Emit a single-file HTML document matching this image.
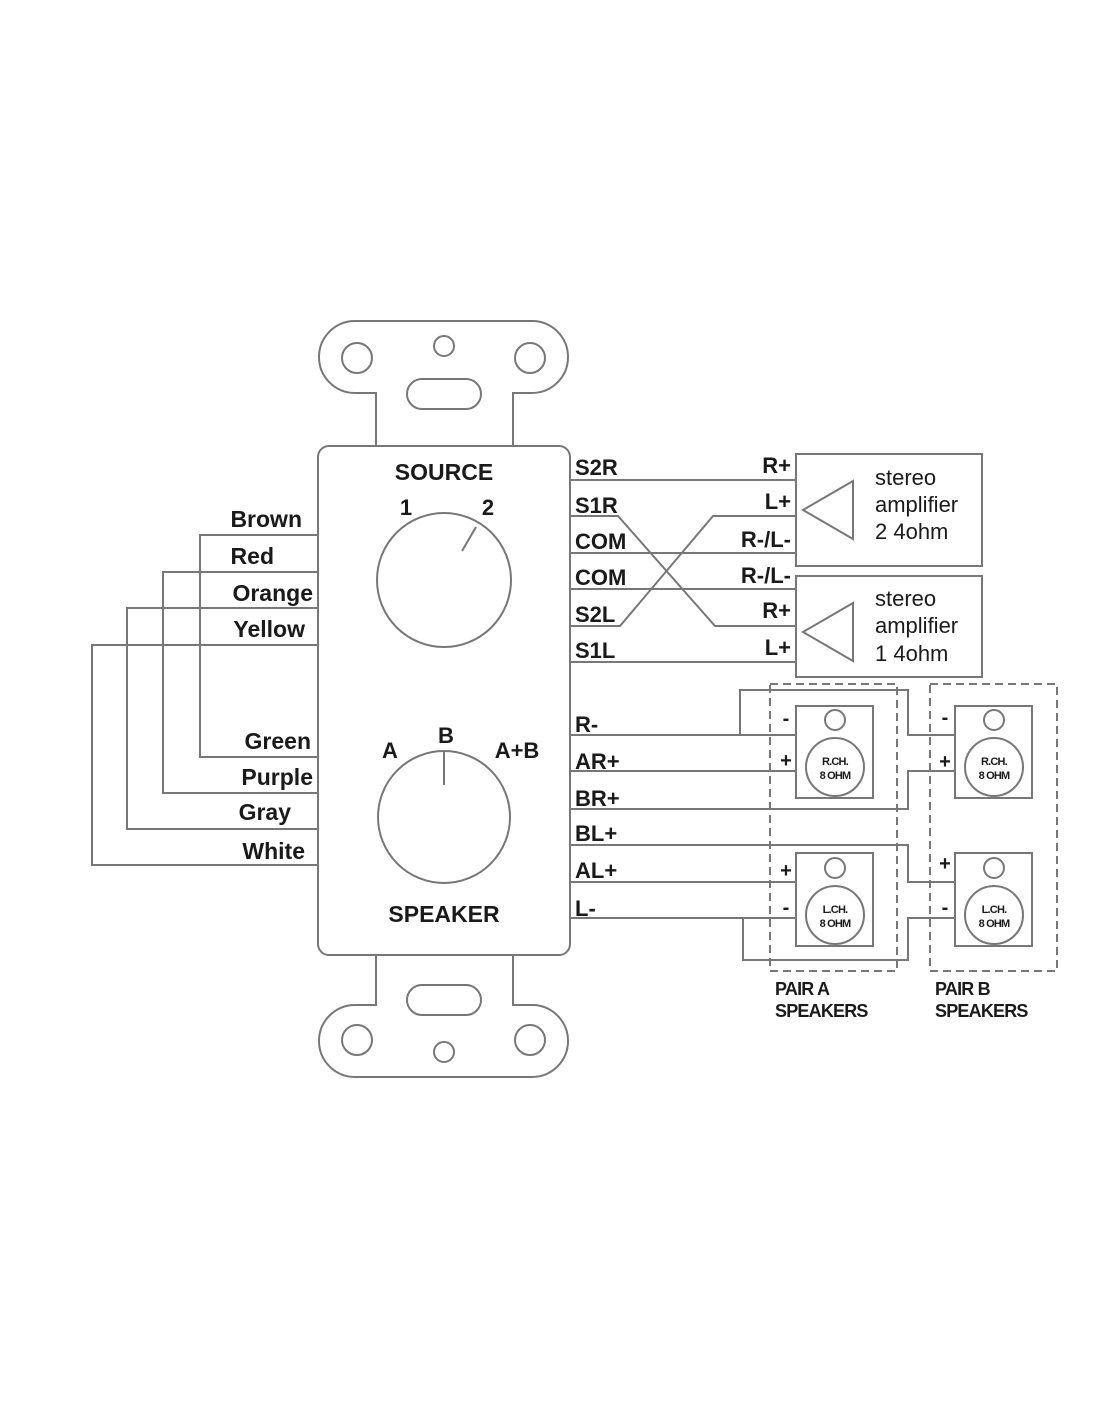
<!DOCTYPE html>
<html><head><meta charset="utf-8"><style>
html,body{margin:0;padding:0;background:#fff;}
svg{display:block;}
text{font-family:"Liberation Sans",Arial,sans-serif;fill:#1a1a1a;font-weight:bold;}
</style></head><body>
<svg width="1100" height="1422" viewBox="0 0 1100 1422" xmlns="http://www.w3.org/2000/svg">
<g fill="none" stroke="#777" stroke-width="2">
<path d="M376,446 L376,393 L355,393 A36,36 0 0 1 355,321 L532,321 A36,36 0 0 1 532,393 L513,393 L513,446"/>
<circle cx="357" cy="358" r="15"/><circle cx="530" cy="358" r="15"/><circle cx="444" cy="346" r="10"/>
<rect x="407" y="379" width="74" height="30" rx="15"/>
<path d="M376,955 L376,1005 L355,1005 A36,36 0 0 0 355,1077 L532,1077 A36,36 0 0 0 532,1005 L513,1005 L513,955"/>
<circle cx="357" cy="1040" r="15"/><circle cx="530" cy="1040" r="15"/><circle cx="444" cy="1052" r="10"/>
<rect x="407" y="985" width="74" height="30" rx="15"/>
<rect x="318" y="446" width="252" height="509" rx="11"/>
<circle cx="444" cy="580" r="67"/>
<line x1="462" y1="551" x2="476" y2="527"/>
<circle cx="444" cy="817" r="66"/>
<line x1="444" y1="752" x2="444" y2="785"/>
<path d="M318,535 H200 V757 H318"/>
<path d="M318,572 H163 V793 H318"/>
<path d="M318,608 H127 V829 H318"/>
<path d="M318,645 H92 V865 H318"/>
<line x1="570" y1="480" x2="796" y2="480"/>
<path d="M570,516 H618 L715,626 H796"/>
<path d="M570,626 H620 L713,516 H796"/>
<line x1="570" y1="553" x2="796" y2="553"/>
<line x1="570" y1="589" x2="796" y2="589"/>
<line x1="570" y1="662" x2="796" y2="662"/>
<rect x="796" y="454" width="186" height="112"/>
<rect x="796" y="576" width="186" height="101"/>
<path d="M853,481 L803,510 L853,539 Z"/>
<path d="M853,603 L803,632 L853,661 Z"/>
<line x1="570" y1="735" x2="796" y2="735"/>
<path d="M740,735 V690 H908 V735 H955"/>
<line x1="570" y1="771" x2="796" y2="771"/>
<path d="M570,809 H908 V771 H955"/>
<path d="M570,845 H908 V882 H955"/>
<line x1="570" y1="882" x2="796" y2="882"/>
<line x1="570" y1="918" x2="796" y2="918"/>
<path d="M743,918 V960 H908 V918 H955"/>
<rect x="796" y="706" width="77" height="92" fill="#fff"/>
<circle cx="835" cy="720" r="10"/><circle cx="835" cy="767" r="29"/>
<rect x="796" y="853" width="77" height="93" fill="#fff"/>
<circle cx="835" cy="868" r="10"/><circle cx="835" cy="915" r="29"/>
<rect x="955" y="706" width="77" height="92" fill="#fff"/>
<circle cx="994" cy="720" r="10"/><circle cx="994" cy="767" r="29"/>
<rect x="955" y="853" width="77" height="93" fill="#fff"/>
<circle cx="994" cy="868" r="10"/><circle cx="994" cy="915" r="29"/>
<rect x="770" y="684" width="127" height="287" stroke-dasharray="8,5"/>
<rect x="930" y="684" width="127" height="287" stroke-dasharray="8,5"/>
</g>
<g font-size="22">
<text x="444" y="480" text-anchor="middle" font-size="23">SOURCE</text>
<text x="406" y="515" text-anchor="middle">1</text>
<text x="488" y="515" text-anchor="middle">2</text>
<text x="390" y="758" text-anchor="middle">A</text>
<text x="446" y="743" text-anchor="middle">B</text>
<text x="517" y="758" text-anchor="middle">A+B</text>
<text x="444" y="922" text-anchor="middle" font-size="23">SPEAKER</text>
</g>
<g font-size="23" text-anchor="end">
<text x="302" y="527">Brown</text>
<text x="274" y="564">Red</text>
<text x="313" y="601">Orange</text>
<text x="305" y="637">Yellow</text>
<text x="311" y="749">Green</text>
<text x="313" y="785">Purple</text>
<text x="291" y="820">Gray</text>
<text x="305" y="859">White</text>
</g>
<g font-size="22">
<text x="575" y="475">S2R</text>
<text x="575" y="513">S1R</text>
<text x="575" y="549">COM</text>
<text x="575" y="585">COM</text>
<text x="575" y="622">S2L</text>
<text x="575" y="658">S1L</text>
<text x="575" y="732">R-</text>
<text x="575" y="769">AR+</text>
<text x="575" y="806">BR+</text>
<text x="575" y="841">BL+</text>
<text x="575" y="878">AL+</text>
<text x="575" y="916">L-</text>
</g>
<g font-size="22" text-anchor="end">
<text x="791" y="473">R+</text>
<text x="791" y="509">L+</text>
<text x="791" y="547">R-/L-</text>
<text x="791" y="583">R-/L-</text>
<text x="791" y="618">R+</text>
<text x="791" y="655">L+</text>
</g>
<g font-size="22" font-weight="normal">
<text x="875" y="485" style="font-weight:normal">stereo</text>
<text x="875" y="512" style="font-weight:normal">amplifier</text>
<text x="875" y="539" style="font-weight:normal">2  4ohm</text>
<text x="875" y="606" style="font-weight:normal">stereo</text>
<text x="875" y="633" style="font-weight:normal">amplifier</text>
<text x="875" y="661" style="font-weight:normal">1  4ohm</text>
</g>
<g font-size="20" text-anchor="middle">
<text x="786" y="725">-</text><text x="786" y="767">+</text>
<text x="786" y="877">+</text><text x="786" y="914">-</text>
<text x="945" y="724">-</text><text x="945" y="768">+</text>
<text x="945" y="870">+</text><text x="945" y="914">-</text>
</g>
<g font-size="11" text-anchor="middle" letter-spacing="-0.8">
<text x="835" y="765">R.CH.</text><text x="835" y="779">8 OHM</text>
<text x="835" y="913">L.CH.</text><text x="835" y="927">8 OHM</text>
<text x="994" y="765">R.CH.</text><text x="994" y="779">8 OHM</text>
<text x="994" y="913">L.CH.</text><text x="994" y="927">8 OHM</text>
</g>
<g font-size="18" letter-spacing="-0.8">
<text x="775" y="995">PAIR A</text><text x="775" y="1017">SPEAKERS</text>
<text x="935" y="995">PAIR B</text><text x="935" y="1017">SPEAKERS</text>
</g>
</svg>
</body></html>
